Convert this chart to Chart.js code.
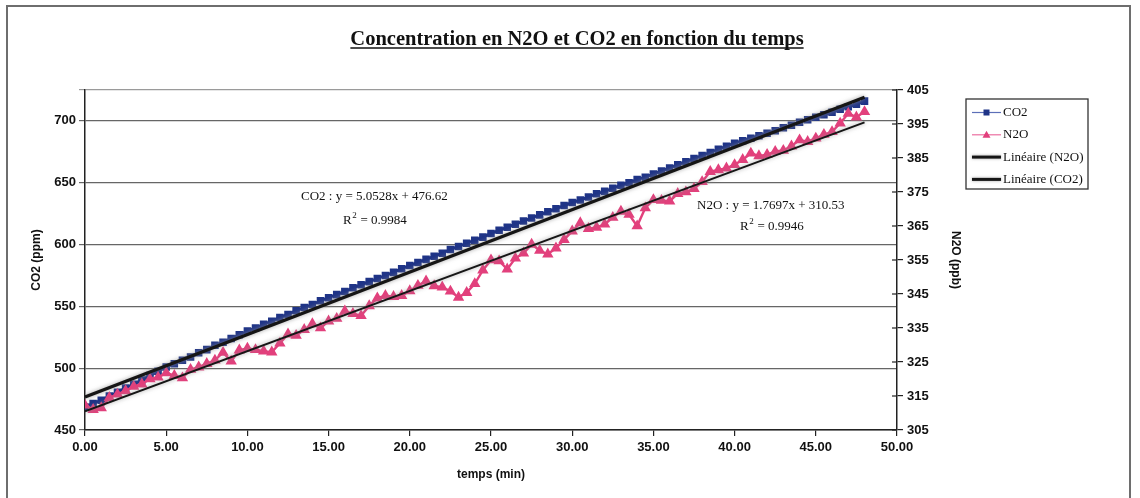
<!DOCTYPE html>
<html>
<head>
<meta charset="utf-8">
<script src="https://cdn.jsdelivr.net/npm/chart.js@4.4.1/dist/chart.umd.min.js"></script>
<style>
  html, body { margin: 0; padding: 0; background: #fff; }
  #wrap { width: 1140px; height: 498px; position: relative; }
</style>
</head>
<body>
<div id="wrap"><canvas id="c" width="1140" height="498"></canvas></div>
<script>
// ---- Data ----
const chartTitle = "Concentration en N2O et CO2 en fonction du temps";
const timesMin = [0,0.5,1,1.5,2,2.5,3,3.5,4,4.5,5,5.5,6,6.5,7,7.5,8,8.5,9,9.5,10,10.5,11,11.5,12,12.5,13,13.5,14,14.5,15,15.5,16,16.5,17,17.5,18,18.5,19,19.5,20,20.5,21,21.5,22,22.5,23,23.5,24,24.5,25,25.5,26,26.5,27,27.5,28,28.5,29,29.5,30,30.5,31,31.5,32,32.5,33,33.5,34,34.5,35,35.5,36,36.5,37,37.5,38,38.5,39,39.5,40,40.5,41,41.5,42,42.5,43,43.5,44,44.5,45,45.5,46,46.5,47,47.5,48];
const co2Ppm = [468.5,471.5,474,477.5,480.5,484,487,490.5,494,497.5,501,503.5,506.5,509,512.5,515,518.5,521,524,527,530,532.5,535.5,538,541,543.5,546.5,549,551.5,554.5,557,559.5,562,565,567.5,570,572.5,575,577.5,580.5,583,585.5,588,590.5,593,596,598.5,601,603.5,606,609,611.5,614,616.5,619,621.5,624,626.5,629,631.5,634,636,638.5,641,643,645.5,648,650,652.5,654.5,657,659.5,662,664.5,667,669.5,672,674.5,677,679.5,682,684,686,688,690,692,694.5,696.5,699,701,703,705,707,709.5,711.5,713.5,716];
const n2oPpb = [312.3,311.0,311.5,314.5,315.5,316.5,317.8,318.5,320.0,320.5,321.8,321.0,320.3,322.8,323.5,324.5,325.5,327.8,325.2,328.5,329.0,328.6,328.2,327.9,330.5,333.2,332.8,334.5,336.2,335.0,337.0,337.8,340.0,339.2,338.6,341.5,343.8,344.5,344.2,344.5,345.9,347.5,348.8,347.4,347.0,345.8,344.0,345.4,348.0,352.0,355.0,354.7,352.3,355.5,357.0,359.6,357.8,356.7,358.5,361.0,363.5,365.9,364.2,364.6,365.5,367.5,369.3,368.4,365.0,370.3,372.7,372.5,372.3,374.5,375.0,376.0,378.0,381.0,381.5,382.0,383.0,384.5,386.4,385.6,386.0,386.9,387.2,388.5,390.3,389.8,390.8,391.9,392.7,395.2,398.1,397.0,398.6];
// Trend line coefficients (as printed on the chart)
const co2Trend = { slope: 5.0528, intercept: 476.62, r2: "0.9984" };
const n2oTrend = { slope: 1.7697, intercept: 310.53, r2: "0.9946" };
const seriesLabels = ["CO2", "N2O", "Linéaire (N2O)", "Linéaire (CO2)"];
const xTickStep = 5, xMin = 0, xMax = 50;
const leftMin = 450, leftMax = 725, leftStep = 50;
const rightMin = 305, rightMax = 405, rightStep = 10;

// ---- Build datasets ----
const toPts = (xs, ys) => xs.map((x, i) => ({ x: x, y: ys[i] }));
const trendPts = (t) => [timesMin[0], timesMin[timesMin.length - 1]].map(x => ({ x: x, y: t.slope * x + t.intercept }));

const BLUE = '#1f3487', BLUE_LINE = '#5c6fb8', PINK = '#e2407c', DARK = '#161616';

const datasets = [
  { label: seriesLabels[3], data: trendPts(co2Trend), yAxisID: 'y', showLine: true, borderColor: DARK, borderWidth: 3.2, pointRadius: 0, order: 0, isTrend: true },
  { label: seriesLabels[2], data: trendPts(n2oTrend), yAxisID: 'y1', showLine: true, borderColor: DARK, borderWidth: 2, pointRadius: 0, order: 1, isTrend: true },
  { label: seriesLabels[1], data: toPts(timesMin, n2oPpb), yAxisID: 'y1', showLine: true, borderColor: PINK, borderWidth: 2.4, pointStyle: 'triangle', pointRadius: 4.2, pointBackgroundColor: PINK, pointBorderColor: PINK, order: 2 },
  { label: seriesLabels[0], data: toPts(timesMin, co2Ppm), yAxisID: 'y', showLine: true, borderColor: BLUE, borderWidth: 3, pointStyle: 'rect', pointRadius: 3.2, pointBackgroundColor: BLUE, pointBorderColor: BLUE, order: 3 }
];

const SERIF = '"Liberation Serif", "Times New Roman", serif';
const SANS = '"Liberation Sans", Arial, sans-serif';

function drawR2(ctx, x, y, val) {
  ctx.font = '13px ' + SERIF;
  ctx.textAlign = 'left'; ctx.textBaseline = 'middle';
  ctx.fillText('R', x, y);
  let w = ctx.measureText('R').width;
  ctx.font = '9px ' + SERIF;
  ctx.fillText('2', x + w + 0.5, y - 5);
  let w2 = ctx.measureText('2').width;
  ctx.font = '13px ' + SERIF;
  ctx.fillText(' = ' + val, x + w + w2 + 1, y);
}

const decor = {
  id: 'decor',
  beforeDraw(chart) {
    const ctx = chart.ctx;
    ctx.save();
    ctx.fillStyle = '#fff';
    ctx.fillRect(0, 0, chart.width, chart.height);
    ctx.strokeStyle = '#6e6e6e';
    ctx.lineWidth = 2;
    ctx.strokeRect(7, 6, 1123, 500);
    ctx.restore();
  },
  beforeDatasetDraw(chart, args) {
    const ds = chart.data.datasets[args.index];
    chart.ctx.save();
    if (ds.isTrend) {
      chart.ctx.shadowColor = 'rgba(140,140,140,0.8)';
      chart.ctx.shadowBlur = 4;
    }
  },
  afterDatasetDraw(chart) { chart.ctx.restore(); },
  afterDraw(chart) {
    const ctx = chart.ctx;
    const ca = chart.chartArea;
    ctx.save();
    // Title (bold, underlined)
    ctx.font = 'bold 20.5px ' + SERIF;
    ctx.fillStyle = '#111';
    ctx.textAlign = 'center'; ctx.textBaseline = 'alphabetic';
    const tx = 577, ty = 45;
    ctx.fillText(chartTitle, tx, ty);
    const tw = ctx.measureText(chartTitle).width;
    ctx.strokeStyle = '#111'; ctx.lineWidth = 1.4;
    ctx.beginPath(); ctx.moveTo(tx - tw / 2, ty + 3); ctx.lineTo(tx + tw / 2, ty + 3); ctx.stroke();

    // Right axis crossing ticks
    const y1 = chart.scales.y1;
    ctx.strokeStyle = '#222'; ctx.lineWidth = 1.2;
    y1.ticks.forEach(t => {
      const py = y1.getPixelForValue(t.value);
      ctx.beginPath(); ctx.moveTo(ca.right - 5, py); ctx.lineTo(ca.right, py); ctx.stroke();
    });

    // Equation annotations
    ctx.fillStyle = '#111';
    ctx.font = '13px ' + SERIF;
    ctx.textAlign = 'left'; ctx.textBaseline = 'middle';
    ctx.fillText('CO2 : y = ' + co2Trend.slope.toFixed(4) + 'x + ' + co2Trend.intercept.toFixed(2), 301, 197);
    drawR2(ctx, 343, 221, co2Trend.r2);
    ctx.font = '13px ' + SERIF;
    ctx.fillText('N2O : y = ' + n2oTrend.slope.toFixed(4) + 'x + ' + n2oTrend.intercept.toFixed(2), 697, 206);
    drawR2(ctx, 740, 227, n2oTrend.r2);

    // Legend box
    const lx = 966, ly = 99, lw = 122, lh = 90;
    ctx.strokeStyle = '#333'; ctx.lineWidth = 1.3;
    ctx.strokeRect(lx, ly, lw, lh);
    const order = [3, 2, 1, 0];
    order.forEach((di, k) => {
      const ds = chart.data.datasets[di];
      const cy = 112.5 + k * 22.3;
      const x0 = 972, x1 = 1001;
      ctx.save();
      if (ds.isTrend) {
        ctx.shadowColor = 'rgba(140,140,140,0.8)'; ctx.shadowBlur = 3;
        ctx.strokeStyle = DARK; ctx.lineWidth = 3;
      } else {
        ctx.strokeStyle = di === 3 ? BLUE_LINE : '#ec6fa0'; ctx.lineWidth = 1.2;
      }
      ctx.beginPath(); ctx.moveTo(x0, cy); ctx.lineTo(x1, cy); ctx.stroke();
      ctx.restore();
      if (!ds.isTrend) {
        ctx.fillStyle = ds.pointBackgroundColor;
        const mx = (x0 + x1) / 2;
        if (ds.pointStyle === 'rect') {
          ctx.fillRect(mx - 3, cy - 3, 6, 6);
        } else {
          ctx.beginPath(); ctx.moveTo(mx, cy - 4); ctx.lineTo(mx + 4, cy + 3); ctx.lineTo(mx - 4, cy + 3); ctx.closePath(); ctx.fill();
        }
      }
      ctx.fillStyle = '#111';
      ctx.font = '13px ' + SERIF;
      ctx.textAlign = 'left'; ctx.textBaseline = 'middle';
      ctx.fillText(ds.label, 1003, cy);
    });
    ctx.restore();
  }
};

const tickFont = { family: SANS, size: 13, weight: 'bold' };
const titleFont = { family: SANS, size: 12, weight: 'bold' };

new Chart(document.getElementById('c'), {
  type: 'scatter',
  data: { datasets: datasets },
  options: {
    responsive: false,
    animation: false,
    devicePixelRatio: 1,
    layout: { padding: { left: 25, top: 90, right: 173, bottom: 12 } },
    plugins: { legend: { display: false }, tooltip: { enabled: false }, title: { display: false } },
    scales: {
      x: {
        type: 'linear', min: xMin, max: xMax,
        ticks: { stepSize: xTickStep, color: '#111', font: tickFont, padding: 4, maxRotation: 0, callback: v => Number(v).toFixed(2) },
        grid: { drawOnChartArea: false, color: '#222', tickLength: 6, lineWidth: 1.2 },
        border: { color: '#222', width: 1.5 },
        title: { display: true, text: 'temps (min)', color: '#111', font: titleFont, padding: { top: 4, bottom: 4 } },
        afterFit: s => { s.height = 56; }
      },
      y: {
        position: 'left', min: leftMin, max: leftMax,
        ticks: { stepSize: leftStep, color: '#111', font: tickFont, padding: 3, callback: v => (v === leftMax ? '' : v) },
        grid: { color: ctx => (ctx.tick && ctx.tick.value === leftMax ? '#9a9a9a' : '#666'), lineWidth: 1.2, tickLength: 6 },
        border: { color: '#222', width: 1.5 },
        title: { display: true, text: 'CO2 (ppm)', color: '#111', font: titleFont, padding: { top: 4, bottom: 4 } },
        afterFit: s => { s.width = 60; }
      },
      y1: {
        position: 'right', min: rightMin, max: rightMax,
        ticks: { stepSize: rightStep, color: '#111', font: tickFont, padding: 4 },
        grid: { drawOnChartArea: false, color: '#222', tickLength: 6, lineWidth: 1.2 },
        border: { color: '#222', width: 1.5 },
        title: { display: true, text: 'N2O (ppb)', color: '#111', font: titleFont, padding: { top: 4, bottom: 4 } },
        afterFit: s => { s.width = 70; }
      }
    }
  },
  plugins: [decor]
});
</script>
</body>
</html>
